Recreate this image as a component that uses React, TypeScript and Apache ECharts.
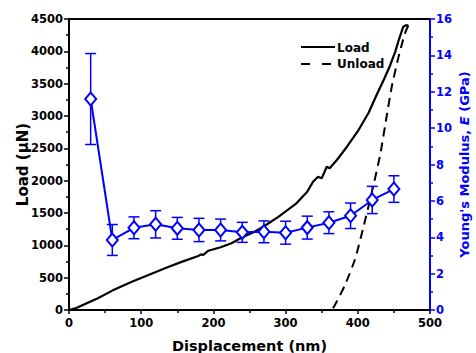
import React, { useEffect, useRef } from "react";
import * as echarts from "echarts";

const loadDisp = [0, 10, 20, 40, 60, 87, 110, 133, 155, 179, 183, 186, 193, 210, 225, 240, 255, 269, 290, 315, 330, 338, 345, 350, 357, 361, 371, 385, 401, 415, 426, 436, 445, 452, 456, 463, 466, 470];
const loadVals = [0, 30, 80, 181, 300, 438, 540, 645, 740, 835, 860, 850, 917, 970, 1031, 1124, 1200, 1288, 1440, 1650, 1830, 1984, 2062, 2036, 2216, 2191, 2320, 2525, 2783, 3050, 3325, 3560, 3789, 4000, 4149, 4381, 4400, 4400];

const unloadDisp = [470, 466, 462, 455, 447, 440, 431, 419, 408, 396, 382, 367, 363];
const unloadVals = [4400, 4300, 4150, 3850, 3450, 3000, 2400, 1800, 1290, 780, 380, 50, 0];

const modDisp = [30, 60, 90, 120, 150, 180, 210, 240, 270, 300, 330, 360, 390, 420, 450];
const modVals = [11.6, 3.85, 4.52, 4.71, 4.49, 4.4, 4.4, 4.27, 4.3, 4.25, 4.53, 4.8, 5.18, 6.05, 6.65];
const modErr = [2.5, 0.85, 0.6, 0.75, 0.6, 0.64, 0.6, 0.55, 0.6, 0.63, 0.63, 0.6, 0.7, 0.75, 0.73];

const legendNames = ["Load", "Unload"];

const BLUE = "#0000ff";
const FONT = "DejaVu Sans, sans-serif";
const fmt = (v: number) => String(v);

export default function App() {
  const ref = useRef<HTMLDivElement>(null);
  useEffect(() => {
    if (!ref.current) return;
    const chart = echarts.init(ref.current, null, { renderer: "svg" });
    const loadData = loadDisp.map((d, i) => [d, loadVals[i]]);
    const unloadData = unloadDisp.map((d, i) => [d, unloadVals[i]]);
    const modData = modDisp.map((d, i) => [d, modVals[i]]);
    const errData = modDisp.map((d, i) => [d, modVals[i], modErr[i]]);

    const tickLabel = { fontFamily: FONT, fontWeight: "bold", fontSize: 11.5, color: "#000" };

    chart.setOption({
      animation: false,
      backgroundColor: "#fff",
      textStyle: { fontFamily: FONT },
      grid: { left: 69, right: 46, top: 19, bottom: 43, containLabel: false, outerBoundsMode: "none" },
      graphic: [
        { type: "line", shape: { x1: 301, y1: 47, x2: 335, y2: 47 }, style: { stroke: "#000", lineWidth: 2 } },
        {
          type: "text",
          x: 337,
          y: 48,
          style: { text: legendNames[0], fontFamily: FONT, fontWeight: "bold", fontSize: 12, fill: "#000", verticalAlign: "middle" },
        },
        {
          type: "line",
          shape: { x1: 301, y1: 64, x2: 331, y2: 64 },
          style: { stroke: "#000", lineWidth: 2, lineDash: [9, 12] },
        },
        {
          type: "text",
          x: 337,
          y: 64,
          style: { text: legendNames[1], fontFamily: FONT, fontWeight: "bold", fontSize: 12, fill: "#000", verticalAlign: "middle" },
        },
      ],
      xAxis: [
        {
          type: "value",
          min: 0,
          max: 500,
          interval: 100,
          name: "Displacement (nm)",
          nameLocation: "middle",
          nameGap: 28,
          nameTextStyle: { fontFamily: FONT, fontWeight: "bold", fontSize: 14.5, color: "#000" },
          axisLine: { onZero: false, lineStyle: { color: "#000", width: 2 } },
          axisTick: { length: 4, lineStyle: { color: "#000", width: 1.5 } },
          minorTick: { show: true, splitNumber: 2, length: 3, lineStyle: { color: "#000", width: 1.5 } },
          axisLabel: { ...tickLabel, margin: 7, formatter: fmt },
          splitLine: { show: false },
        },
        {
          type: "value",
          position: "top",
          min: 0,
          max: 500,
          axisLine: { onZero: false, lineStyle: { color: "#000", width: 2 } },
          axisTick: { show: false },
          axisLabel: { show: false },
          splitLine: { show: false },
        },
      ],
      yAxis: [
        {
          type: "value",
          min: 0,
          max: 4500,
          interval: 500,
          name: "Load (\u03bcN)",
          nameLocation: "middle",
          nameGap: 39,
          nameRotate: 90,
          nameMoveOverlap: false,
          nameTextStyle: { fontFamily: FONT, fontWeight: "bold", fontSize: 15, color: "#000" },
          axisLine: { show: true, onZero: false, lineStyle: { color: "#000", width: 2 } },
          axisTick: { length: 5, lineStyle: { color: "#000", width: 1.5 } },
          minorTick: { show: true, splitNumber: 2, length: 3, lineStyle: { color: "#000", width: 1.5 } },
          axisLabel: { ...tickLabel, margin: 6, formatter: fmt },
          splitLine: { show: false },
        },
        {
          type: "value",
          position: "right",
          min: 0,
          max: 16,
          interval: 2,
          name: "Young's Modulus, {i|E} (GPa)",
          nameLocation: "middle",
          nameGap: 28,
          nameRotate: 90,
          nameMoveOverlap: false,
          nameTextStyle: {
            fontFamily: FONT,
            fontWeight: "bold",
            fontSize: 13,
            color: BLUE,
            rich: {
              i: { fontFamily: FONT, fontWeight: "bold", fontStyle: "italic", fontSize: 13, color: BLUE },
            },
          },
          axisLine: { show: true, onZero: false, lineStyle: { color: BLUE, width: 2 } },
          axisTick: { length: 5, lineStyle: { color: BLUE, width: 1.5 } },
          minorTick: { show: true, splitNumber: 2, length: 3, lineStyle: { color: BLUE, width: 1.5 } },
          axisLabel: { ...tickLabel, color: BLUE, margin: 6, formatter: fmt },
          splitLine: { show: false },
        },
      ],
      series: [
        {
          name: "Load",
          type: "line",
          data: loadData,
          showSymbol: false,
          symbol: "none",
          lineStyle: { color: "#000", width: 2.2 },
          itemStyle: { color: "#000" },
          z: 2,
        },
        {
          name: "Unload",
          type: "line",
          data: unloadData,
          showSymbol: false,
          symbol: "none",
          smooth: 0.2,
          lineStyle: { color: "#000", width: 2, type: [9, 6] },
          itemStyle: { color: "#000" },
          z: 2,
        },
        {
          name: "ErrorBars",
          type: "custom",
          yAxisIndex: 1,
          data: errData,
          encode: { x: 0, y: 1 },
          z: 3,
          renderItem: (params: any, api: any) => {
            const x = api.value(0);
            const y = api.value(1);
            const e = api.value(2);
            const top = api.coord([x, y + e]);
            const bot = api.coord([x, y - e]);
            const w = 5.5;
            const st = { stroke: BLUE, lineWidth: 1.5 };
            return {
              type: "group",
              children: [
                { type: "line", shape: { x1: top[0], y1: top[1], x2: bot[0], y2: bot[1] }, style: st },
                { type: "line", shape: { x1: top[0] - w, y1: top[1], x2: top[0] + w, y2: top[1] }, style: st },
                { type: "line", shape: { x1: bot[0] - w, y1: bot[1], x2: bot[0] + w, y2: bot[1] }, style: st },
              ],
            };
          },
        },
        {
          name: "Modulus",
          type: "line",
          yAxisIndex: 1,
          data: modData,
          symbol: "diamond",
          symbolSize: [11, 13],
          lineStyle: { color: BLUE, width: 2 },
          itemStyle: { color: "#fff", borderColor: BLUE, borderWidth: 2 },
          z: 4,
        },
      ],
    });
    return () => chart.dispose();
  }, []);
  return <div ref={ref} style={{ width: 476, height: 353, position: "absolute", left: 0, top: 0 }} />;
}
